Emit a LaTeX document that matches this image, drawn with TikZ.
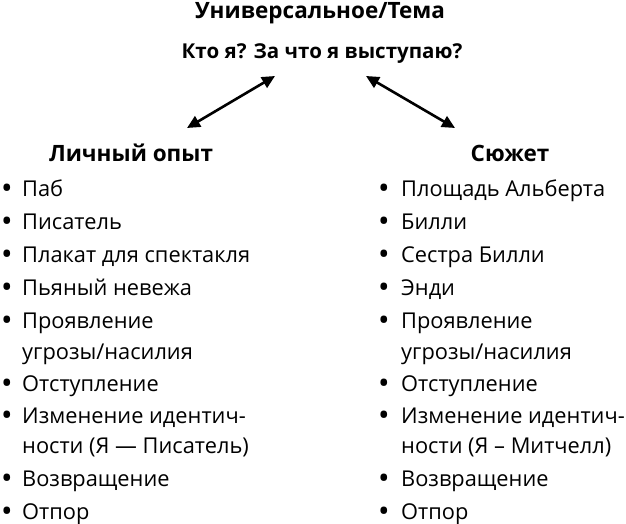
\documentclass[tikz,border=0pt]{standalone}
\usepackage{fontspec}
\setmainfont{Open Sans}
\usetikzlibrary{arrows.meta}
\begin{document}
\begin{tikzpicture}[x=1pt,y=-1pt,
  itm/.style={anchor=base west,inner sep=0pt,font=\fontsize{21.8}{25}\selectfont},
  blt/.style={anchor=base,inner sep=0pt,font=\fontsize{24}{25}\selectfont\bfseries},
  hdr/.style={anchor=base,inner sep=0pt,font=\fontsize{22.5}{26}\selectfont\bfseries},
  dbl/.style={{Triangle[length=13pt,width=12pt]}-{Triangle[length=13pt,width=12pt]},line width=2.6pt}]
\useasboundingbox (0,0) rectangle (626,524);
\node[hdr] (title) at (320,18.5) {Универсальное/Тема};
\node[hdr,font=\fontsize{20.5}{24}\selectfont\bfseries] (q) at (322,58.5) {Кто я? За что я выступаю?};
\node[hdr] (lh) at (131,161) {Личный опыт};
\node[hdr] (rh) at (510,161) {Сюжет};
\coordinate (a1) at (275,76);
\coordinate (a2) at (187,128);
\coordinate (b1) at (366,76);
\coordinate (b2) at (455,128);
\draw[dbl] (a1) -- (a2);
\draw[dbl] (b1) -- (b2);
% left column
\foreach \yy/\tt/\bb in {196/{Паб}/1,229/{Писатель}/1,262/{Плакат для спектакля}/1,295/{Пьяный невежа}/1,328/{Проявление}/1,359/{угрозы/насилия}/0,391/{Отступление}/1,423/{Изменение идентич-}/1,453/{ности (Я — Писатель)}/0,486/{Возвращение}/1,519/{Отпор}/1}{
  \node[itm] (l\yy) at (22,\yy) {\tt};
  \ifnum\bb=1 \node[blt] (lb\yy) at (7,\yy) {•};\fi
}
\foreach \yy/\tt/\bb in {196/{Площадь Альберта}/1,229/{Билли}/1,262/{Сестра Билли}/1,295/{Энди}/1,328/{Проявление}/1,359/{угрозы/насилия}/0,391/{Отступление}/1,423/{Изменение идентич-}/1,453/{ности (Я – Митчелл)}/0,486/{Возвращение}/1,519/{Отпор}/1}{
  \node[itm] (r\yy) at (401,\yy) {\tt};
  \ifnum\bb=1 \node[blt] (rb\yy) at (384,\yy) {•};\fi
}
\end{tikzpicture}
\end{document}
